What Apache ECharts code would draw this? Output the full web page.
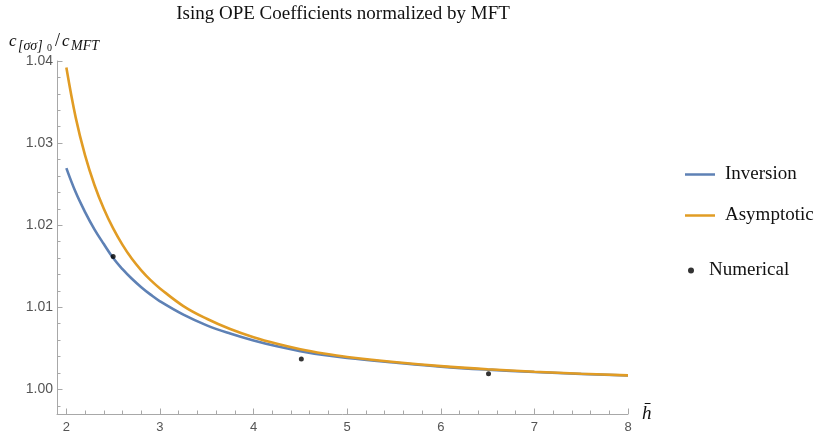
<!DOCTYPE html>
<html>
<head>
<meta charset="utf-8">
<script src="https://cdn.jsdelivr.net/npm/echarts@6/dist/echarts.min.js"></script>
<style>
  html, body { margin: 0; padding: 0; background: #fff; }
  #main { width: 830px; height: 443px; }
</style>
</head>
<body>
<div id="main"></div>
<script>
// values
const hCurve = [2, 2.1, 2.2, 2.3, 2.4, 2.5, 2.6, 2.7, 2.8, 2.9, 3, 3.25, 3.5, 3.75, 4, 4.25, 4.5, 4.75, 5, 5.5, 6, 6.5, 7, 7.5, 8]
const inversion = [1.02695, 1.0240, 1.0216, 1.0195, 1.0177, 1.0160, 1.01464, 1.01347, 1.01245, 1.01154, 1.01073, 1.0091, 1.0078, 1.0068, 1.00595, 1.00524, 1.00466, 1.00418, 1.00382, 1.00327, 1.00277, 1.0024, 1.00211, 1.00188, 1.00169]
const asymptotic = [1.0392, 1.0331, 1.0285, 1.0249, 1.022, 1.0196, 1.0176, 1.0159, 1.0145, 1.0133, 1.0123, 1.01015, 1.0086, 1.00735, 1.00635, 1.00555, 1.00489, 1.00437, 1.00395, 1.00333, 1.00283, 1.00245, 1.00215, 1.00191, 1.00171]
const hNumerical = [2.5, 4.51, 6.51]
const numerical = [1.0162, 1.0037, 1.0019]

const xTicks = [2, 3, 4, 5, 6, 7, 8]
const xMinorTicks = [2.2, 2.4, 2.6, 2.8, 3.2, 3.4, 3.6, 3.8, 4.2, 4.4, 4.6, 4.8, 5.2, 5.4, 5.6, 5.8, 6.2, 6.4, 6.6, 6.8, 7.2, 7.4, 7.6, 7.8]
const yTicks = [1.0, 1.01, 1.02, 1.03, 1.04]
const yMinorTicks = [0.998, 1.002, 1.004, 1.006, 1.008, 1.012, 1.014, 1.016, 1.018, 1.022, 1.024, 1.026, 1.028, 1.032, 1.034, 1.036, 1.038]

const AXIS_GREY = '#a8a8a8'
const LABEL_GREY = '#555'
const SERIF = 'Liberation Serif'
const SANS = 'Liberation Sans'

const pairs = (xs, ys) => xs.map((x, i) => [x, ys[i]])

const chart = echarts.init(document.getElementById('main'))

chart.setOption({
  animation: false,
  backgroundColor: '#fff',
  title: {
    text: 'Ising OPE Coefficients normalized by MFT',
    left: 338,
    top: 0,
    textAlign: 'center',
    textStyle: { fontFamily: SERIF, fontWeight: 'normal', fontSize: 19, color: '#111' }
  },
  grid: {
    left: 57,
    right: 202,
    top: 61,
    bottom: 29,
    containLabel: false,
    outerBoundsMode: 'none'
  },
  legend: [
    {
      orient: 'vertical',
      left: 680,
      top: 160,
      selectedMode: false,
      data: ['Inversion', 'Asymptotic'],
      icon: 'rect',
      itemWidth: 30,
      itemHeight: 2.5,
      itemGap: 22,
      textStyle: { fontFamily: SERIF, fontSize: 19, color: '#111', padding: [0, 0, 0, 5] }
    },
    {
      left: 683,
      top: 256,
      selectedMode: false,
      data: ['Numerical'],
      icon: 'circle',
      itemWidth: 6,
      itemHeight: 6,
      textStyle: { fontFamily: SERIF, fontSize: 19, color: '#111', padding: [0, 0, 0, 10] }
    }
  ],
  xAxis: [
    {
      type: 'value',
      position: 'bottom',
      min: 1.9,
      max: 8,
      name: 'h\u0304',
      nameLocation: 'end',
      nameGap: 14,
      nameTextStyle: { fontFamily: SERIF, fontStyle: 'italic', fontSize: 19, color: '#111' },
      axisLine: { show: true, onZero: false, lineStyle: { color: AXIS_GREY, width: 1 } },
      axisTick: { show: true, inside: true, length: 5.5, customValues: xTicks, lineStyle: { color: AXIS_GREY } },
      axisLabel: { customValues: xTicks, color: LABEL_GREY, fontFamily: SANS, fontSize: 13, margin: 7 },
      splitLine: { show: false }
    },
    {
      type: 'value',
      position: 'bottom',
      min: 1.9,
      max: 8,
      axisLine: { show: false, onZero: false },
      axisTick: { show: true, inside: true, length: 3.5, customValues: xMinorTicks, lineStyle: { color: AXIS_GREY } },
      axisLabel: { show: false },
      splitLine: { show: false }
    }
  ],
  yAxis: [
    {
      type: 'value',
      position: 'left',
      min: 0.997,
      max: 1.04,
      axisLine: { show: true, onZero: false, lineStyle: { color: AXIS_GREY, width: 1 } },
      axisTick: { show: true, inside: true, length: 5.5, customValues: yTicks, lineStyle: { color: AXIS_GREY } },
      axisLabel: {
        customValues: yTicks,
        color: LABEL_GREY,
        fontFamily: SANS,
        fontSize: 14,
        margin: 4,
        formatter: (v) => v.toFixed(2)
      },
      splitLine: { show: false }
    },
    {
      type: 'value',
      position: 'left',
      min: 0.997,
      max: 1.04,
      axisLine: { show: false, onZero: false },
      axisTick: { show: true, inside: true, length: 3.5, customValues: yMinorTicks, lineStyle: { color: AXIS_GREY } },
      axisLabel: { show: false },
      splitLine: { show: false }
    }
  ],
  // y axis label  c_[σσ]0 / c_MFT
  graphic: [
    { type: 'text', left: 9, top: 33, style: { text: 'c', font: 'italic 17px ' + SERIF, fill: '#111' } },
    { type: 'text', left: 18, top: 39, style: { text: '[σσ]', font: 'italic 14px ' + SERIF, fill: '#111' } },
    { type: 'text', left: 47, top: 43, style: { text: '0', font: '10px ' + SERIF, fill: '#111' } },
    { type: 'text', left: 55, top: 32, style: { text: '/', font: '18px ' + SERIF, fill: '#111' } },
    { type: 'text', left: 62, top: 33, style: { text: 'c', font: 'italic 17px ' + SERIF, fill: '#111' } },
    { type: 'text', left: 71, top: 39, style: { text: 'MFT', font: 'italic 14px ' + SERIF, fill: '#111' } }
  ],
  series: [
    {
      name: 'Inversion',
      type: 'line',
      xAxisIndex: 0,
      yAxisIndex: 0,
      data: pairs(hCurve, inversion),
      smooth: 0.4,
      showSymbol: false,
      color: '#5e81b5',
      lineStyle: { color: '#5e81b5', width: 2.6 },
      z: 2
    },
    {
      name: 'Asymptotic',
      type: 'line',
      xAxisIndex: 0,
      yAxisIndex: 0,
      data: pairs(hCurve, asymptotic),
      smooth: 0.4,
      showSymbol: false,
      color: '#e19c24',
      lineStyle: { color: '#e19c24', width: 2.6 },
      z: 3
    },
    {
      name: 'Numerical',
      type: 'scatter',
      xAxisIndex: 0,
      yAxisIndex: 0,
      data: pairs(hNumerical, numerical),
      symbol: 'circle',
      symbolSize: 5,
      itemStyle: { color: '#000' },
      z: 4
    }
  ]
})
</script>
</body>
</html>
